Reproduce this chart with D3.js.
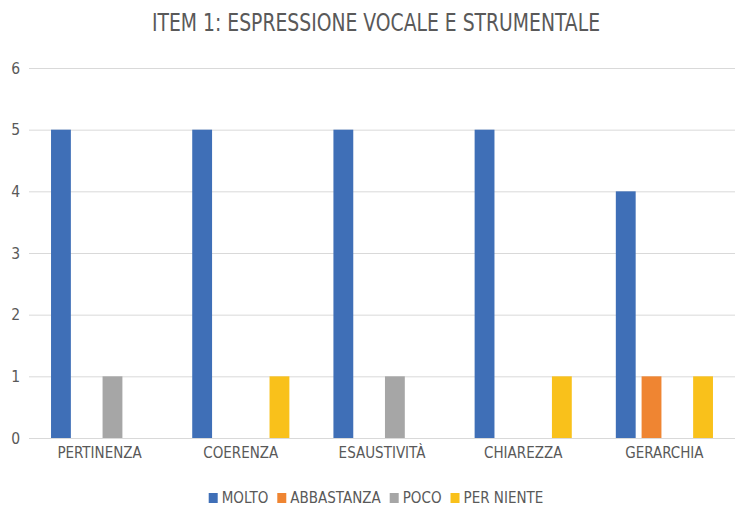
<!DOCTYPE html>
<html>
<head>
<meta charset="utf-8">
<script src="https://cdn.jsdelivr.net/npm/d3@7"></script>
<style>
  body { margin: 0; background: #fff; }
  svg text { font-family: "Liberation Sans Narrow", "DejaVu Sans Condensed", "Roboto Condensed", sans-serif; fill: #595959; }
</style>
</head>
<body>
<div id="chart"></div>
<script>
// ---------------- DATA ----------------
var categories = ["PERTINENZA", "COERENZA", "ESAUSTIVITÀ", "CHIAREZZA", "GERARCHIA"];
var seriesNames = ["MOLTO", "ABBASTANZA", "POCO", "PER NIENTE"];
var molto      = [5, 5, 5, 5, 4];
var abbastanza = [0, 0, 0, 0, 1];
var poco       = [1, 0, 1, 0, 0];
var perNiente  = [0, 1, 0, 1, 1];
var yTicks = [0, 1, 2, 3, 4, 5, 6];
var titleText = "ITEM 1: ESPRESSIONE VOCALE E STRUMENTALE";

var seriesValues = [molto, abbastanza, poco, perNiente];
var colors = ["#3f6fb7", "#ef8532", "#a6a6a6", "#f9c11b"];

// ---------------- SVG AREA ----------------
var W = 737, H = 510;
var margin = {top: 68, right: 2, bottom: 72, left: 29},
  width = W - margin.left - margin.right,
  height = H - margin.top - margin.bottom;

var svg = d3.select("#chart")
  .append("svg")
    .attr("width", W)
    .attr("height", H);

// title
svg.append("text")
  .attr("x", 376)
  .attr("y", 31)
  .attr("text-anchor", "middle")
  .style("font-size", "25px")
  .attr("textLength", 448)
  .attr("lengthAdjust", "spacingAndGlyphs")
  .text(titleText);

var g = svg.append("g")
  .attr("transform", "translate(" + margin.left + "," + margin.top + ")");

// ---------------- SCALES ----------------
var x0 = d3.scaleBand()
  .domain(categories)
  .range([0, width])
  .paddingInner(0.27)
  .paddingOuter(0.135);

var x1 = d3.scaleBand()
  .domain(seriesNames)
  .range([0, x0.bandwidth()])
  .paddingInner(0.23)
  .paddingOuter(0.115);

var y = d3.scaleLinear()
  .domain([0, 6])
  .range([height, 0]);

var color = d3.scaleOrdinal().domain(seriesNames).range(colors);

// gridlines
g.selectAll(".grid")
  .data(yTicks)
  .enter()
  .append("line")
    .attr("x1", 0)
    .attr("x2", width)
    .attr("y1", function(d){ return y(d) + 0.5 })
    .attr("y2", function(d){ return y(d) + 0.5 })
    .style("stroke", "#d9d9d9")
    .style("stroke-width", 1);

// y labels
g.selectAll(".ylab")
  .data(yTicks)
  .enter()
  .append("text")
    .attr("x", -9)
    .attr("y", function(d){ return y(d) + 5.5 })
    .attr("text-anchor", "end")
    .style("font-size", "15.5px")
    .text(function(d){ return d });

// bars
var groups = g.selectAll(".grp")
  .data(categories)
  .enter()
  .append("g")
    .attr("transform", function(d){ return "translate(" + x0(d) + ",0)" });

groups.selectAll("rect")
  .data(function(d, i){
    return seriesNames.map(function(s, j){ return {s: s, v: seriesValues[j][i]} })
  })
  .enter()
  .append("rect")
    .attr("x", function(d){ return x1(d.s) })
    .attr("y", function(d){ return y(d.v) })
    .attr("width", x1.bandwidth())
    .attr("height", function(d){ return y(0) - y(d.v) })
    .style("fill", function(d){ return color(d.s) });

// x labels
g.selectAll(".xlab")
  .data(categories)
  .enter()
  .append("text")
    .attr("x", function(d){ return x0(d) + x0.bandwidth() / 2 })
    .attr("y", height + 20)
    .attr("text-anchor", "middle")
    .style("font-size", "15px")
    .text(function(d){ return d });

// ---------------- LEGEND ----------------
var legend = svg.append("g");
var lx = 0;
seriesNames.forEach(function(s){
  var item = legend.append("g").attr("transform", "translate(" + lx + ",0)");
  item.append("rect")
    .attr("x", 0).attr("y", -10)
    .attr("width", 9).attr("height", 10)
    .style("fill", color(s));
  var t = item.append("text")
    .attr("x", 13).attr("y", 0)
    .style("font-size", "15px")
    .text(s);
  lx += 13 + t.node().getComputedTextLength() + 9;
});
var lw = lx - 9;
legend.attr("transform", "translate(" + (376 - lw / 2) + ",503)");
</script>
</body>
</html>
